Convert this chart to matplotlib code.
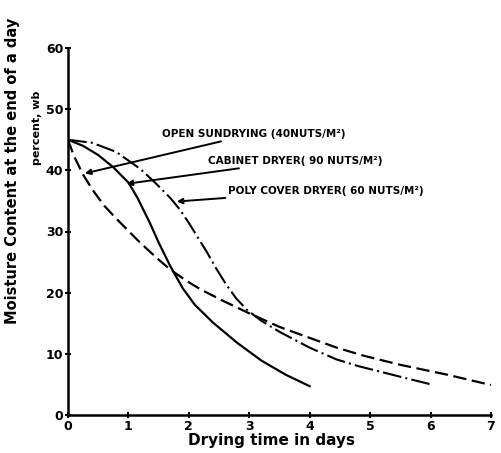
import numpy as np
import matplotlib.pyplot as plt

# (days, moisture % wb)
sun_days = [0, 0.1, 0.25, 0.4, 0.6, 0.8, 0.97, 1.15, 1.3, 1.5, 1.69, 1.95, 2.2, 2.6, 2.96,
            3.5, 4.0, 4.45, 4.89, 5.5, 6.27, 7.0]
sun_mc = [45, 42.3, 39.3, 36.9, 34.2, 32.1, 30.4, 28.6, 27.2, 25.4, 23.8, 22.0, 20.5, 18.5, 16.8,
          14.4, 12.6, 11.0, 9.7, 8.2, 6.6, 4.9]

cab_days = [0, 0.25, 0.5, 0.75, 1.0, 1.15, 1.35, 1.5, 1.7, 1.9, 2.1, 2.4, 2.8, 3.2, 3.6, 4.0]
cab_mc = [45, 44.0, 42.5, 40.5, 38.0, 35.5, 31.5, 28.2, 24.2, 20.7, 18.0, 15.1, 11.8, 8.9, 6.6, 4.7]

poly_days = [0, 0.4, 0.8, 1.2, 1.45, 1.7, 1.85, 2.0, 2.15, 2.3, 2.45, 2.6, 2.78, 2.96, 3.2, 3.5,
             4.0, 4.44, 4.8, 5.16, 5.6, 6.05]
poly_mc = [45, 44.5, 43.0, 40.2, 37.9, 35.4, 33.6, 31.4, 29.0, 26.6, 24.0, 21.6, 19.1, 17.2, 15.4, 13.6,
           11.0, 9.1, 8.0, 7.1, 6.0, 4.9]

labels = ["OPEN SUNDRYING (40NUTS/M\u00b2)",
          "CABINET DRYER( 90 NUTS/M\u00b2)",
          "POLY COVER DRYER( 60 NUTS/M\u00b2)"]

fig = plt.figure(figsize=(5.01, 4.53), dpi=100)
ax = fig.add_axes([68/501, 1-415/453, (491-68)/501, (415-48)/453])

ax.plot(sun_days, sun_mc, color="black", lw=1.6, linestyle=(0, (6, 2.5)))
ax.plot(cab_days, cab_mc, color="black", lw=1.6)
ax.plot(poly_days, poly_mc, color="black", lw=1.5, linestyle=(0, (9, 2, 1, 2)))

lab_font = dict(fontweight="bold", fontsize=7.5)
arrow = dict(arrowstyle="-|>", color="black", lw=1.4, mutation_scale=8, shrinkA=0, shrinkB=0)
ax.annotate(labels[0], xy=(0.28, 39.5), xytext=(1.56, 46.0), va="center", ha="left",
            arrowprops=arrow, **lab_font)
ax.annotate(labels[1], xy=(0.97, 37.8), xytext=(2.32, 41.6), va="center", ha="left",
            arrowprops=arrow, **lab_font)
ax.annotate(labels[2], xy=(1.8, 34.9), xytext=(2.65, 36.7), va="center", ha="left",
            arrowprops=arrow, **lab_font)

ax.set_xlim(0, 7)
ax.set_ylim(0, 60)
ax.set_xticks(range(0, 8))
ax.set_yticks(range(0, 70, 10))
ax.spines["top"].set_visible(False)
ax.spines["right"].set_visible(False)
for s in ["left", "bottom"]:
    ax.spines[s].set_linewidth(1.8)
ax.tick_params(direction="inout", length=4, width=1.5, pad=1.5)
for t in ax.get_xticklabels() + ax.get_yticklabels():
    t.set_fontweight("bold")
    t.set_fontsize(9)

fig.text(272/501, 1-441/453, "Drying time in days", ha="center", va="center",
         fontsize=11, fontweight="bold")
fig.text(13/501, 1-171/453, "Moisture Content at the end of a day", rotation=90,
         ha="center", va="center", fontsize=10.5, fontweight="bold")
fig.text(37/501, 1-128/453, "percent, wb", rotation=90,
         ha="center", va="center", fontsize=8, fontweight="bold")

plt.savefig("out.png", dpi=100)
